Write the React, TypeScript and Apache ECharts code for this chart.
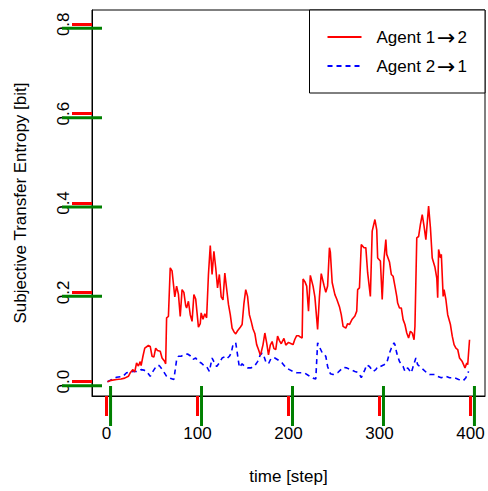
import React, { useEffect, useRef } from "react";
import * as echarts from "echarts";

const xTicks = [0, 100, 200, 300, 400];
const yTicks = [0, 0.2, 0.4, 0.6, 0.8];
const xMin = -16;
const xMax = 416;
const yMin = -0.032;
const yMax = 0.832;

const redSteps = [1, 5, 11, 16, 20, 24, 26, 29, 31, 33, 35, 37, 38, 40, 42, 46, 48, 50, 52, 54, 56, 59, 61, 64, 65, 66, 68, 70, 72, 75, 77, 79, 81, 83, 85, 87, 88, 90, 92, 94, 96, 98, 101, 103, 104, 106, 108, 110, 112, 114, 116, 118, 120, 122, 124, 126, 128, 130, 132, 134, 136, 138, 140, 142, 144, 147, 149, 151, 153, 155, 157, 159, 161, 163, 165, 167, 169, 170, 172, 174, 176, 178, 180, 182, 184, 186, 188, 190, 192, 195, 197, 200, 203, 205, 207, 209, 211, 213, 215, 216, 218, 220, 222, 224, 227, 229, 232, 234, 236, 239, 241, 243, 245, 246, 248, 251, 253, 256, 258, 260, 263, 265, 267, 270, 273, 275, 276, 278, 280, 283, 285, 287, 290, 292, 295, 297, 298, 301, 303, 305, 307, 308, 311, 313, 315, 317, 319, 320, 322, 324, 326, 328, 330, 332, 334, 336, 338, 339, 341, 343, 345, 347, 349, 351, 354, 356, 358, 361, 363, 364, 365, 367, 368, 370, 371, 373, 375, 378, 380, 382, 384, 386, 388, 391, 394, 396, 397, 399];
const redValues = [0.0, 0.003, 0.005, 0.006, 0.008, 0.012, 0.02, 0.027, 0.022, 0.042, 0.035, 0.045, 0.036, 0.057, 0.075, 0.081, 0.079, 0.057, 0.055, 0.075, 0.07, 0.068, 0.053, 0.045, 0.04, 0.143, 0.146, 0.255, 0.248, 0.19, 0.214, 0.196, 0.146, 0.206, 0.2, 0.17, 0.165, 0.18, 0.15, 0.135, 0.195, 0.185, 0.122, 0.13, 0.154, 0.14, 0.152, 0.143, 0.24, 0.305, 0.24, 0.292, 0.255, 0.21, 0.24, 0.19, 0.183, 0.243, 0.208, 0.173, 0.15, 0.12, 0.112, 0.107, 0.114, 0.122, 0.128, 0.175, 0.206, 0.191, 0.15, 0.135, 0.118, 0.108, 0.083, 0.072, 0.06, 0.066, 0.083, 0.109, 0.087, 0.06, 0.082, 0.09, 0.074, 0.072, 0.102, 0.092, 0.085, 0.097, 0.082, 0.088, 0.085, 0.083, 0.095, 0.103, 0.103, 0.1, 0.098, 0.23, 0.224, 0.214, 0.158, 0.238, 0.214, 0.19, 0.117, 0.19, 0.242, 0.216, 0.2, 0.214, 0.3, 0.29, 0.222, 0.195, 0.185, 0.168, 0.15, 0.124, 0.12, 0.13, 0.128, 0.14, 0.147, 0.158, 0.206, 0.21, 0.307, 0.3, 0.3, 0.244, 0.191, 0.337, 0.363, 0.34, 0.277, 0.27, 0.184, 0.275, 0.318, 0.285, 0.268, 0.24, 0.236, 0.214, 0.191, 0.176, 0.165, 0.165, 0.139, 0.128, 0.109, 0.098, 0.113, 0.109, 0.094, 0.124, 0.322, 0.325, 0.352, 0.374, 0.348, 0.318, 0.393, 0.345, 0.277, 0.256, 0.232, 0.188, 0.296, 0.277, 0.285, 0.191, 0.206, 0.184, 0.15, 0.128, 0.102, 0.083, 0.075, 0.072, 0.053, 0.045, 0.031, 0.042, 0.038, 0.094];

const blueSteps = [1, 6, 11, 18, 22, 29, 35, 38, 41, 44, 48, 51, 55, 58, 62, 66, 70, 74, 77, 79, 82, 85, 89, 92, 95, 98, 101, 104, 107, 110, 113, 116, 118, 121, 124, 127, 131, 133, 135, 137, 139, 142, 144, 146, 149, 152, 155, 159, 163, 166, 169, 171, 173, 175, 178, 181, 185, 189, 193, 197, 201, 205, 209, 214, 218, 222, 227, 230, 232, 234, 237, 241, 243, 246, 249, 254, 258, 260, 264, 268, 273, 277, 280, 284, 286, 289, 293, 296, 298, 301, 305, 308, 311, 313, 316, 317, 319, 322, 326, 328, 331, 335, 337, 340, 342, 346, 352, 355, 361, 364, 368, 373, 377, 382, 387, 392, 395, 398];
const blueValues = [0.0, 0.005, 0.01, 0.012, 0.02, 0.023, 0.023, 0.027, 0.026, 0.023, 0.012, 0.023, 0.036, 0.036, 0.025, 0.012, 0.008, 0.005, 0.049, 0.057, 0.057, 0.06, 0.062, 0.058, 0.05, 0.053, 0.045, 0.042, 0.036, 0.034, 0.023, 0.053, 0.045, 0.034, 0.042, 0.053, 0.057, 0.053, 0.057, 0.064, 0.083, 0.087, 0.06, 0.032, 0.04, 0.034, 0.031, 0.031, 0.036, 0.045, 0.06, 0.064, 0.057, 0.045, 0.04, 0.053, 0.053, 0.048, 0.042, 0.032, 0.027, 0.023, 0.02, 0.02, 0.019, 0.014, 0.008, 0.006, 0.087, 0.078, 0.065, 0.057, 0.034, 0.018, 0.016, 0.02, 0.028, 0.032, 0.031, 0.027, 0.023, 0.02, 0.009, 0.027, 0.038, 0.034, 0.023, 0.027, 0.034, 0.034, 0.038, 0.042, 0.064, 0.075, 0.087, 0.083, 0.064, 0.045, 0.034, 0.023, 0.031, 0.02, 0.034, 0.053, 0.038, 0.031, 0.02, 0.016, 0.016, 0.012, 0.009, 0.012, 0.009, 0.009, 0.005, 0.002, 0.009, 0.023];

const seriesNames = ["Agent 1 \u2192 2", "Agent 2 \u2192 1"];
const xTitle = "time [step]";
const yTitle = "Subjective Transfer Entropy [bit]";

const FONT = "'Liberation Sans', Arial, Helvetica, sans-serif";

export default function App() {
  const ref = useRef<HTMLDivElement>(null);
  useEffect(() => {
    if (!ref.current) return;
    const chart = echarts.init(ref.current, null, { renderer: "svg" });
    const red = redSteps.map((s, i) => [s, redValues[i]]);
    const blue = blueSteps.map((s, i) => [s, blueValues[i]]);
    const tickMarks = [
      ...xTicks.map((v) => [v, yMin, 0]),
      ...yTicks.map((v) => [xMin, v, 1]),
    ];
    chart.setOption({
      animation: false,
      textStyle: { fontFamily: FONT, color: "#000" },
      grid: {
        left: 92,
        top: 10,
        right: 3,
        bottom: 95,
        show: true,
        borderColor: "#000",
      },
      legend: {
        orient: "vertical",
        right: 3,
        top: 10,
        padding: [16, 18, 16, 17],
        itemGap: 7,
        itemWidth: 34,
        itemHeight: 14,
        backgroundColor: "#fff",
        borderColor: "#000",
        borderWidth: 1,
        borderRadius: 0,
        itemStyle: { opacity: 0, borderWidth: 0 },
        formatter: (name: string) => {
          const parts = name.split(" \u2192 ");
          return "{a|" + parts[0] + "}{b|\u2192}{a|" + parts[1] + "}";
        },
        textStyle: {
          fontFamily: FONT,
          fontSize: 17,
          color: "#000",
          padding: [0, 0, 0, 10],
          rich: {
            a: { fontFamily: FONT, fontSize: 17, color: "#000" },
            b: {
              fontFamily: "'DejaVu Sans', sans-serif",
              fontSize: 22,
              color: "#000",
              padding: [0, 2, 0, 2],
            },
          },
        },
        data: [{ name: seriesNames[0] }, { name: seriesNames[1] }],
      },
      xAxis: {
        type: "value",
        min: xMin,
        max: xMax,
        name: xTitle,
        nameLocation: "middle",
        nameGap: 72,
        nameTextStyle: { fontSize: 17, color: "#000", fontFamily: FONT },
        axisLine: { show: true, onZero: false, lineStyle: { color: "#000" } },
        splitLine: { show: false },
        axisTick: {
          show: true,
          length: 20,
          customValues: xTicks,
          lineStyle: { color: "red", width: 3 },
        },
        axisLabel: {
          customValues: xTicks,
          margin: 29,
          fontSize: 17,
          color: "#000",
          fontFamily: FONT,
        },
      },
      yAxis: {
        type: "value",
        min: yMin,
        max: yMax,
        name: yTitle,
        nameLocation: "middle",
        nameGap: 63,
        nameRotate: 90,
        nameTextStyle: { fontSize: 17, color: "#000", fontFamily: FONT },
        axisLine: { show: true, onZero: false, lineStyle: { color: "#000" } },
        splitLine: { show: false },
        axisTick: {
          show: true,
          length: 20,
          customValues: yTicks,
          lineStyle: { color: "red", width: 3 },
        },
        axisLabel: {
          customValues: yTicks,
          rotate: 90,
          margin: 20,
          fontSize: 17,
          color: "#000",
          fontFamily: FONT,
          formatter: (v: number) => v.toFixed(1),
        },
      },
      series: [
        {
          name: seriesNames[0],
          type: "line",
          data: red,
          showSymbol: false,
          symbol: "none",
          lineStyle: { color: "#ff0000", width: 1.6 },
          itemStyle: { color: "#ff0000" },
          z: 3,
        },
        {
          name: seriesNames[1],
          type: "line",
          data: blue,
          showSymbol: false,
          symbol: "none",
          lineStyle: { color: "#0000ff", width: 1.6, type: [5, 4] },
          itemStyle: { color: "#0000ff" },
          z: 2,
        },
        {
          name: "ticks",
          type: "custom",
          silent: true,
          clip: false,
          data: tickMarks,
          renderItem: (params: any, api: any) => {
            const p = api.coord([api.value(0), api.value(1)]);
            const isY = api.value(2) === 1;
            return {
              type: "line",
              shape: isY
                ? { x1: p[0] - 30, y1: p[1] + 4, x2: p[0] + 10, y2: p[1] + 4 }
                : { x1: p[0] + 4, y1: p[1] - 10, x2: p[0] + 4, y2: p[1] + 30 },
              style: { stroke: "green", lineWidth: 3 },
            };
          },
          z: 10,
        },
      ],
    });
    return () => chart.dispose();
  }, []);
  return <div ref={ref} style={{ width: 488, height: 491, position: "absolute", left: 0, top: 0 }} />;
}
